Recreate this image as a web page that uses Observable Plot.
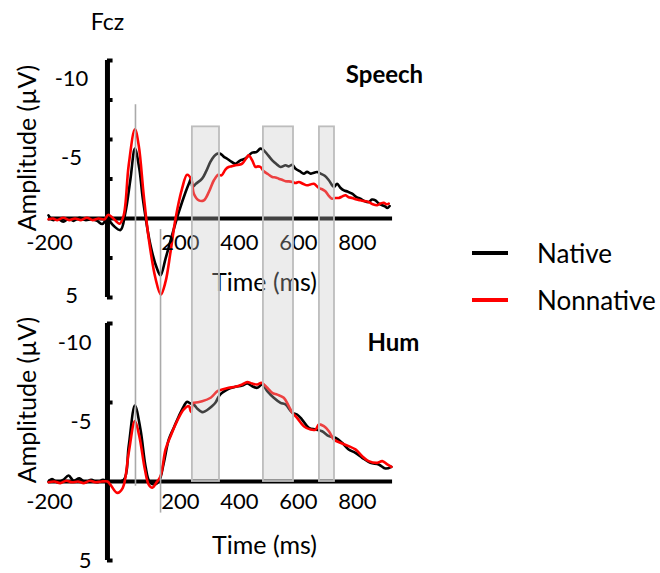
<!DOCTYPE html>
<html>
<head>
<meta charset="utf-8">
<script src="https://cdn.jsdelivr.net/npm/d3@7"></script>
<script src="https://cdn.jsdelivr.net/npm/@observablehq/plot@0.6"></script>
<style>
html, body { margin: 0; padding: 0; background: #fff; }
#fig { position: relative; width: 660px; height: 573px; overflow: hidden; background: #fff; font-family: Lato, sans-serif; }
#fig .panel { position: absolute; left: 0; }
#fig .sw { position: absolute; width: 36px; height: 4px; }
#fig .lt { position: absolute; font-size: 26px; line-height: 26px; transform: translateY(-50%); color: #000; white-space: nowrap; }
</style>
</head>
<body>
<div id="fig"></div>
<script>
// ---------------- data ----------------
const electrode = "Fcz";
const conditions = ["Native", "Nonnative"];
const conditionColors = ["#000000", "#ff0000"];
const panelTitles = ["Speech", "Hum"];

// Speech – Native
const speechNativeT = [-200,-185,-170,-150,-130,-115,-95,-75,-55,-35,-18,0,20,44,61,78,93,108,120,146,168,180,197,219,242,265,278,285,
  288,300,321,335,349,362,372,383,395,406,420,434,451,462,474,491,505,519,530,545,559,573,587,604,615,627,638,652,666,677,689,700,711,723,737,751,768,779,790,802,815,830,845,858,872,886,897,909,920,932,943,949,957];
const speechNativeV = [-0.2,0.1,0.0,0.2,0.0,0.15,-0.05,0.1,0.05,0.15,0.35,0.05,0.45,0.73,-0.4,-2.5,-4.42,-3.15,-1.25,1.7,3.17,3.6,2.54,1.06,-0.4,-1.68,-2.3,-2.6,
  -2.0,-2.2,-2.52,-3.0,-3.58,-3.95,-4.1,-4.1,-3.9,-3.78,-3.6,-3.47,-3.68,-3.75,-3.9,-4.17,-4.2,-4.42,-4.32,-4.0,-3.68,-3.45,-3.26,-3.37,-3.3,-3.4,-3.15,-3.0,-2.84,-2.95,-2.84,-2.9,-2.94,-2.84,-2.7,-2.42,-2.0,-2.2,-1.95,-1.78,-1.7,-1.57,-1.35,-1.25,-1.1,-1.04,-1.2,-1.15,-0.95,-0.84,-0.75,-0.66,-0.79];

// Speech – Nonnative
const speechNonnativeT = [-200,-185,-170,-150,-130,-110,-90,-70,-50,-30,-10,3,20,41,55,72,93,106,123,140,163,181,197,214,231,253,270,285,
  293,310,327,344,361,376,387,400,411,422,434,445,457,474,479,491,502,510,519,530,545,559,570,581,592,604,615,627,638,649,663,677,688,700,717,728,739,750,762,773,785,797,807,818,830,845,858,872,886,900,915,926,937,946,954];
const speechNonnativeV = [0.05,0.0,0.1,-0.05,0.1,0.0,0.1,-0.05,0.1,0.0,0.05,-0.24,0.0,0.33,-0.2,-3.37,-5.65,-4.63,-1.47,1.28,3.8,4.82,4.0,2.1,0.0,-1.89,-2.77,-2.44,
  -1.57,-1.15,-1.15,-1.68,-2.42,-2.77,-2.73,-3.1,-3.26,-3.3,-3.37,-3.4,-3.47,-3.9,-4.0,-3.68,-3.26,-3.3,-3.26,-2.99,-2.8,-2.63,-2.6,-2.52,-2.45,-2.36,-2.35,-2.31,-2.25,-2.31,-2.2,-2.1,-2.15,-2.2,-1.93,-1.85,-1.72,-1.45,-1.25,-1.3,-1.3,-1.4,-1.47,-1.35,-1.3,-1.2,-1.15,-1.1,-1.04,-0.9,-0.84,-0.95,-1.0,-0.9,-0.94];

// Hum – Native
const humNativeT = [-200,-188,-170,-150,-132,-115,-95,-75,-55,-35,-15,0,16,55,72,93,112,129,142,157,174,191,208,225,242,259,270,280,
  293,305,321,332,344,366,378,389,411,434,457,474,491,508,525,542,564,587,604,627,643,660,683,706,728,751,773,796,818,841,864,892,920,943,963];
const humNativeV = [0.0,-0.15,0.05,-0.1,-0.38,-0.05,-0.2,0.05,-0.1,0.05,-0.1,0.0,0.0,-0.1,-2.23,-4.81,-3.29,-0.97,0.0,0.19,0.0,-1.18,-2.66,-3.4,-4.13,-4.77,-5.05,-4.95,
  -4.87,-4.6,-4.39,-4.45,-4.6,-4.98,-5.4,-5.61,-5.87,-5.99,-6.08,-6.2,-6.03,-5.93,-6.14,-5.72,-5.3,-4.98,-4.87,-4.35,-4.24,-3.92,-3.4,-3.29,-3.18,-2.87,-2.77,-2.45,-2.03,-1.81,-1.5,-1.18,-1.08,-0.82,-0.93];

// Hum – Nonnative
const humNonnativeT = [-200,-180,-160,-140,-120,-100,-80,-60,-40,-20,0,10,33,52,72,93,108,127,140,152,165,180,197,214,236,259,276,283,290,
  293,321,350,373,389,411,434,457,474,491,508,523,542,559,576,598,615,627,643,666,689,706,717,734,751,768,790,818,841,864,886,915,932,949,963];
const humNonnativeV = [0.05,0.0,0.1,-0.05,0.05,0.0,0.1,-0.05,0.05,0.0,0.0,0.2,0.72,0.4,-1.81,-3.82,-2.87,-0.76,0.2,0.4,0.1,-0.34,-2.03,-2.87,-3.82,-4.56,-4.77,-4.4,-4.98,
  -4.98,-5.08,-5.3,-5.72,-5.82,-5.93,-5.99,-6.14,-6.29,-6.2,-6.14,-6.24,-5.93,-5.61,-5.5,-5.3,-4.77,-4.35,-4.03,-3.5,-3.29,-3.29,-3.61,-3.5,-3.18,-2.66,-2.45,-2.24,-2.03,-1.6,-1.29,-1.18,-1.29,-1.08,-0.93];

// axes / annotations
const timeDomain = [-200, 960];
const ampDomain = [-10, 5];
const timeLabelsLeft = [-200];
const timeLabelsRight = [200, 400, 600, 800];
const ampLabelsUpper = [-10, -5];
const ampLabelsLower = [5];
const spineTicksSpeech = [-10, -7.5, -5, -2.5, 2.5, 5];
const spineTicksHum = [-10, -5, 5];
const windowStart = [288, 529, 719];
const windowEnd = [380, 631, 770];
const markerTimes = [95, 180];
const markerTopSpeech = [-7.2, 0.7];
const markerBottomHum = [0.3, 2.0];

// ---------------- drawing ----------------
function rows(T, V, cond) { return T.map((t, i) => ({t, v: V[i], cond})); }

const fig = document.getElementById("fig");
const numSize = 22, wordSize = 25, titleSize = 24;

function makePanel(cfg) {
  const data = rows(cfg.nT, cfg.nV, conditions[0]).concat(rows(cfg.xT, cfg.xV, conditions[1]));
  const marks = [
    // x axis line at 0
    Plot.ruleY([0], {x1: timeDomain[0], x2: 967, stroke: "#000", strokeWidth: 4}),
    // y spine at time 0
    Plot.ruleX([0], {y1: ampDomain[0], y2: ampDomain[1], stroke: "#000", strokeWidth: 5}),
    Plot.ruleY(cfg.spineTicks, {y: d => d, x1: 0, x2: 19, stroke: "#000", strokeWidth: 4}),
    // traces
    Plot.line(data, {x: "t", y: "v", z: "cond", stroke: "cond", strokeWidth: 2.6, curve: "catmull-rom"}),
    // tick labels
    Plot.text(timeLabelsLeft, {x: d => d, y: 0, dy: cfg.xLabDy, dx: 1, fontSize: numSize, lineAnchor: "middle", textAnchor: "middle", text: d => String(d)}),
    Plot.text(timeLabelsRight, {x: d => d, y: 0, dy: cfg.xLabDy, dx: 14, fontSize: numSize, lineAnchor: "middle", textAnchor: "middle", text: d => String(d)}),
    Plot.text(ampLabelsUpper, {y: d => d, frameAnchor: "left", dx: cfg.yLabDx, dy: cfg.yLabDyUpper, fontSize: numSize, lineAnchor: "middle", textAnchor: cfg.yLabAnchor, text: d => String(d)}),
    Plot.text(ampLabelsLower, {y: d => d, frameAnchor: "left", dx: cfg.yLabDx, dy: cfg.yLabDyLower, fontSize: numSize, lineAnchor: "middle", textAnchor: cfg.yLabAnchor, text: d => String(d)}),
    // axis titles
    Plot.text(["Time (ms)"], {frameAnchor: "bottom", dx: 45, dy: cfg.timeTitleDy, fontSize: wordSize, lineAnchor: "middle", textAnchor: "middle", text: d => d}),
    Plot.text(["Amplitude (µV)"], {frameAnchor: "left", rotate: -90, dx: -21, dy: cfg.ampTitleDy, fontSize: wordSize, lineAnchor: "middle", textAnchor: "middle", text: d => d}),
    Plot.text([cfg.title], {frameAnchor: "top-right", dx: cfg.titleDx, dy: cfg.titleDy, fontSize: titleSize, textAnchor: "middle", lineAnchor: "middle", fontWeight: "bold", text: d => d}),
    ...(cfg.extra || []),
    // shaded windows (semi-transparent overlay)
    Plot.rect(windowStart, {x1: d => d, x2: (d, i) => windowEnd[i], y1: cfg.winTop, y2: cfg.winBottom,
      fill: "#c4c4c4", fillOpacity: 0.33, stroke: "#bdbdbd", strokeWidth: 1.8}),
    // marker lines
    Plot.ruleX(markerTimes, {x: d => d, y1: (d, i) => cfg.ruleTop[i], y2: (d, i) => cfg.ruleBottom[i], stroke: "#aaaaaa", strokeWidth: 1.6})
  ];
  const svg = Plot.plot({
    width: 660,
    height: cfg.height,
    marginLeft: 48,
    marginRight: 270,
    marginTop: cfg.mTop,
    marginBottom: cfg.mBottom,
    x: {domain: timeDomain, axis: null},
    y: {domain: ampDomain, reverse: true, axis: null},
    color: {domain: conditions, range: conditionColors},
    style: {fontFamily: "Lato, sans-serif", fontSize: "22px", overflow: "hidden", background: "transparent", color: "#000"},
    marks
  });
  svg.classList.add("panel");
  svg.style.top = cfg.top + "px";
  svg.style.position = "absolute";
  svg.style.left = "0px";
  fig.appendChild(svg);
}

makePanel({
  title: panelTitles[0], top: 0, height: 310, mTop: 60, mBottom: 13,
  nT: speechNativeT, nV: speechNativeV, xT: speechNonnativeT, xV: speechNonnativeV,
  spineTicks: spineTicksSpeech,
  xLabDy: 24, yLabDx: 23, yLabAnchor: "middle", yLabDyUpper: 18, yLabDyLower: -2,
  ampTitleDy: -31, titleDx: -6, titleDy: 15, timeTitleDy: -15,
  winTop: -5.8, winBottom: 6.5,
  ruleTop: markerTopSpeech, ruleBottom: [6.5, 6.5],
  extra: [Plot.text([electrode], {x: 0, frameAnchor: "top", dy: -38, fontSize: 23, lineAnchor: "middle", textAnchor: "middle", text: d => d})]
});

makePanel({
  title: panelTitles[1], top: 310, height: 263, mTop: 13, mBottom: 13,
  nT: humNativeT, nV: humNativeV, xT: humNonnativeT, xV: humNonnativeV,
  spineTicks: spineTicksHum,
  xLabDy: 20, yLabDx: 43, yLabAnchor: "end", yLabDyUpper: 19, yLabDyLower: 0,
  ampTitleDy: -42, titleDx: 3, titleDy: 20, timeTitleDy: -15,
  winTop: -11.5, winBottom: 0,
  ruleTop: [-11.5, -11.5], ruleBottom: markerBottomHum
});

// legend (HTML)
const legendY = [253, 300];
conditions.forEach((c, i) => {
  const sw = document.createElement("div");
  sw.className = "sw";
  sw.style.left = "472px";
  sw.style.top = (legendY[i] - 2) + "px";
  sw.style.background = conditionColors[i];
  fig.appendChild(sw);
  const lt = document.createElement("div");
  lt.className = "lt";
  lt.style.left = "537px";
  lt.style.top = legendY[i] + "px";
  lt.textContent = c;
  fig.appendChild(lt);
});
</script>
</body>
</html>
